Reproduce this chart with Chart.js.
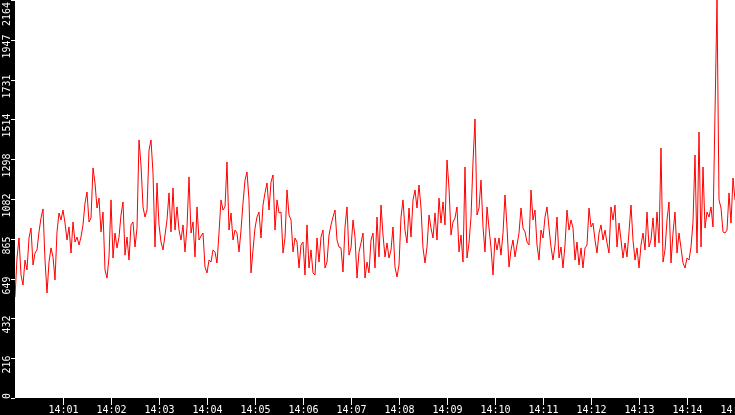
<!DOCTYPE html>
<html>
<head>
<meta charset="utf-8">
<script src="https://cdn.jsdelivr.net/npm/chart.js@4.4.1/dist/chart.umd.min.js"></script>
<style>
  html, body { margin: 0; padding: 0; background: #000; }
  #wrap { width: 735px; height: 415px; }
</style>
</head>
<body>
<div id="wrap"><canvas id="chart"></canvas></div>
<script>
// Muestras cada 2.5 s desde las 14:00:00
const stepSeconds = 2.5;

const block1 = [549, 761, 870, 669, 614, 750, 696, 870, 924, 723, 788, 805, 903, 979, 1028, 750, 571, 739, 816, 767, 642, 903, 1006, 968, 1022, 951, 859, 930, 788, 957, 848, 875, 832, 875, 941, 1060, 1120, 957, 979, 1251, 1169, 1033, 1087, 903, 1011];
const block2 = [696, 652, 767, 1077, 761, 897, 816, 875, 995, 1066, 777, 875, 750, 941, 957, 821, 924, 1403, 1267, 1039, 984, 1022, 1348, 1403, 1223, 821, 1169, 941, 848, 805, 886, 968, 1115, 903, 1142, 913, 1039, 913, 859, 941, 794, 930, 1202, 897, 957];
const block3 = [767, 1039, 859, 881, 897, 712, 680, 750, 739, 805, 794, 734, 897, 1077, 1022, 1039, 1283, 913, 1006, 859, 913, 897, 794, 913, 1060, 1185, 1229, 1077, 680, 805, 924, 984, 1011, 870, 1049, 1115, 1169, 1022, 1174, 1213, 913, 1077, 1006, 1011, 788];
const block4 = [870, 1131, 995, 968, 794, 870, 848, 707, 832, 848, 669, 941, 707, 805, 680, 669, 870, 739, 875, 913, 707, 739, 886, 941, 984, 1022, 859, 821, 816, 685, 930, 1039, 777, 816, 968, 875, 652, 794, 843, 897, 652, 739, 680, 859, 897];
const block5 = [707, 984, 767, 1049, 886, 767, 843, 761, 805, 930, 712, 658, 723, 984, 1077, 913, 843, 1033, 875, 1077, 1131, 1033, 1158, 1033, 816, 734, 821, 995, 924, 870, 1006, 859, 1087, 951, 1066, 941, 1294, 1142, 886, 957, 979, 1039, 794, 886, 739];
const block6 = [1256, 761, 843, 984, 1283, 1517, 995, 1033, 1185, 930, 794, 1039, 924, 816, 669, 870, 805, 870, 777, 897, 1104, 930, 712, 805, 859, 767, 832, 897, 1033, 924, 903, 848, 832, 1131, 968, 1022, 832, 750, 913, 870, 984, 1039, 924, 821, 750];
const block7 = [832, 984, 761, 821, 707, 832, 1022, 913, 968, 924, 750, 848, 723, 816, 707, 816, 832, 1033, 930, 951, 859, 788, 897, 941, 859, 913, 843, 788, 1039, 968, 1049, 821, 951, 859, 761, 843, 767, 903, 1049, 859, 750, 816, 707, 832, 897];
const block8 = [805, 1011, 821, 859, 979, 821, 1011, 843, 1359, 739, 805, 968, 1066, 734, 897, 1011, 788, 897, 816, 734, 707, 761, 750, 821, 957, 1321, 788, 1446, 821, 1256, 924, 1011, 984, 1039, 930, 1550, 2164, 1077, 1033, 903, 897, 913, 1115, 951, 1196, 1077];

const values = [].concat(block1, block2, block3, block4, block5, block6, block7, block8);

// Ejes
const yTickValues = [0, 216.4, 432.8, 649.2, 865.6, 1082, 1298.4, 1514.8, 1731.2, 1947.6, 2164];
const yTickLabels = ['0', '216', '432', '649', '865', '1082', '1298', '1514', '1731', '1947', '2164'];
const xTickValues = [60, 120, 180, 240, 300, 360, 420, 480, 540, 600, 660, 720, 780, 840, 900];
const xTickLabels = ['14:01', '14:02', '14:03', '14:04', '14:05', '14:06', '14:07', '14:08', '14:09', '14:10', '14:11', '14:12', '14:13', '14:14', '14:15'];

const points = values.map((v, i) => ({ x: i * stepSeconds, y: v }));

const labelFont = '10px "DejaVu Sans Mono", monospace';

// Fondo negro, área de trazado blanca, marcas y etiquetas de los ejes
const axisPainter = {
    id: 'axisPainter',
    beforeDraw(chart) {
        const { ctx, chartArea: a } = chart;
        ctx.save();
        ctx.fillStyle = '#000';
        ctx.fillRect(0, 0, chart.width, chart.height);
        ctx.fillStyle = '#fff';
        ctx.fillRect(a.left, a.top, a.right - a.left, a.bottom - a.top);
        ctx.restore();
    },
    afterDraw(chart) {
        const { ctx, chartArea: a } = chart;
        const xs = chart.scales.x;
        const ys = chart.scales.y;
        ctx.save();
        ctx.strokeStyle = '#fff';
        ctx.fillStyle = '#fff';
        ctx.lineWidth = 1;
        ctx.font = labelFont;

        // eje X
        ctx.textAlign = 'center';
        ctx.textBaseline = 'alphabetic';
        xTickValues.forEach((t, i) => {
            const px = Math.round(xs.getPixelForValue(t)) + 0.5;
            ctx.beginPath();
            ctx.moveTo(px, a.bottom);
            ctx.lineTo(px, a.bottom + 7);
            ctx.stroke();
            ctx.fillText(xTickLabels[i], px, a.bottom + 15);
        });

        // eje Y (texto girado)
        yTickValues.forEach((v, i) => {
            const py = Math.round(ys.getPixelForValue(v)) + 0.5;
            ctx.beginPath();
            ctx.moveTo(a.left - 4, py);
            ctx.lineTo(a.left, py);
            ctx.stroke();

            const w = ctx.measureText(yTickLabels[i]).width;
            let center = py + 6;
            if (center - w / 2 < 2) center = 2 + w / 2;
            if (center + w / 2 > a.bottom + 1) center = a.bottom + 1 - w / 2;
            ctx.save();
            ctx.translate(a.left - 5, center);
            ctx.rotate(-Math.PI / 2);
            ctx.textAlign = 'center';
            ctx.fillText(yTickLabels[i], 0, 0);
            ctx.restore();
        });
        ctx.restore();
    }
};

new Chart(document.getElementById('chart'), {
    type: 'line',
    data: {
        datasets: [{
            data: points,
            borderColor: '#ff0000',
            borderWidth: 1,
            pointRadius: 0,
            tension: 0,
            fill: false
        }]
    },
    options: {
        responsive: true,
        maintainAspectRatio: false,
        devicePixelRatio: 1,
        animation: false,
        layout: { padding: { left: 15, right: 0, top: 0, bottom: 17 } },
        plugins: {
            legend: { display: false },
            tooltip: { enabled: false }
        },
        scales: {
            x: { type: 'linear', min: 0, max: 900, display: false },
            y: { type: 'linear', min: 0, max: 2164, display: false }
        }
    },
    plugins: [axisPainter]
});
</script>
</body>
</html>
